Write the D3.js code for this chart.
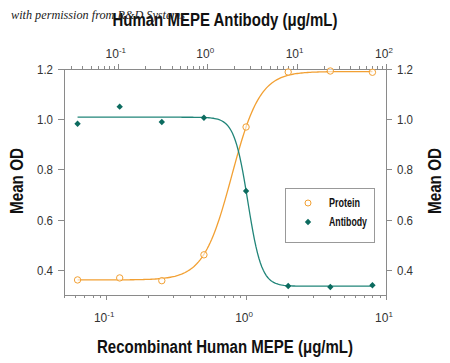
<!DOCTYPE html>
<html>
<head>
<meta charset="utf-8">
<script src="https://cdn.jsdelivr.net/npm/d3@7"></script>
<style>
  body { margin: 0; background: #fff; }
  svg { display: block; }
  .cond { font-family: "Liberation Sans", Arial, sans-serif; }
</style>
</head>
<body>
<div id="chart"></div>
<script>
'use strict';

// concentrations (ug/mL) on the bottom axis
var concentrations = [0.0625, 0.125, 0.25, 0.5, 1, 2, 4, 8];
var proteinOD = [0.36, 0.368, 0.357, 0.46, 0.969, 1.188, 1.192, 1.187];
var antibodyOD = [0.982, 1.05, 0.989, 1.006, 0.714, 0.336, 0.332, 0.339];

// 4PL fit: [bottom, top, mid, hill]
var proteinFit = [0.36, 1.19, 0.79, 4.3];
var antibodyFit = [0.335, 1.008, 1.03, 8.9];

var yTicks = [0.4, 0.6, 0.8, 1.0, 1.2];
var bottomMajor = [0.1, 1, 10];
var topMajor = [0.1, 1, 10, 100];
var legendNames = ['Protein', 'Antibody'];

var W = 450, H = 363;
var L = 64, R = 386, T = 69, B = 295;
var ORANGE = '#f2a033';
var TEAL_LINE = '#218579';
var TEAL = '#0c6b5f';
var AXIS = '#8a8a8a';
var LABEL = '#333';

var svg = d3.select('#chart')
    .append('svg')
    .attr('width', W)
    .attr('height', H);

var x = d3.scaleLog().domain([0.05, 10]).range([L, R]);
var xTop = d3.scaleLog().domain([0.025, 100]).range([L, R]);
var y = d3.scaleLinear().domain([0.3, 1.2]).range([B, T]);

// frame lines
svg.append('line').attr('x1', L + 0.5).attr('x2', L + 0.5).attr('y1', T).attr('y2', B).attr('stroke', AXIS);
svg.append('line').attr('x1', R + 0.5).attr('x2', R + 0.5).attr('y1', T).attr('y2', B).attr('stroke', AXIS);
svg.append('line').attr('x1', L).attr('x2', R).attr('y1', T + 0.5).attr('y2', T + 0.5).attr('stroke', AXIS);
svg.append('line').attr('x1', L).attr('x2', R).attr('y1', B + 0.5).attr('y2', B + 0.5).attr('stroke', AXIS);

function isMajor(v, list) {
    return list.some(function(m) { return Math.abs(m - v) / m < 1e-6; });
}

// bottom log ticks
svg.append('g').selectAll('line')
    .data(x.ticks())
    .enter().append('line')
    .attr('x1', function(d) { return Math.round(x(d)) + 0.5; })
    .attr('x2', function(d) { return Math.round(x(d)) + 0.5; })
    .attr('y1', B)
    .attr('y2', function(d) { return B + (isMajor(d, bottomMajor) ? 5 : 3); })
    .attr('stroke', AXIS);

// top log ticks
svg.append('g').selectAll('line')
    .data(xTop.ticks())
    .enter().append('line')
    .attr('x1', function(d) { return Math.round(xTop(d)) + 0.5; })
    .attr('x2', function(d) { return Math.round(xTop(d)) + 0.5; })
    .attr('y1', T)
    .attr('y2', function(d) { return T - (isMajor(d, topMajor) ? 5 : 3); })
    .attr('stroke', AXIS);

function powerLabel(g, scale, data, yPos) {
    var t = g.selectAll('text')
        .data(data)
        .enter().append('text')
        .attr('class', 'cond')
        .attr('x', function(d) { return scale(d) - 2; })
        .attr('y', yPos)
        .attr('text-anchor', 'middle')
        .attr('fill', LABEL)
        .style('font-size', '12px');
    t.append('tspan').text('10');
    t.append('tspan')
        .attr('dy', -5)
        .style('font-size', '8px')
        .text(function(d) { return String(Math.round(Math.log10(d))); });
}
powerLabel(svg.append('g'), x, bottomMajor, 322);
powerLabel(svg.append('g'), xTop, topMajor, 58);

// y ticks left and right
[[L, -6, L - 11, 'end'], [R, 6, R + 11, 'start']].forEach(function(s) {
    var g = svg.append('g');
    g.selectAll('line')
        .data(yTicks)
        .enter().append('line')
        .attr('x1', s[0])
        .attr('x2', s[0] + s[1])
        .attr('y1', function(d) { return Math.round(y(d)) + 0.5; })
        .attr('y2', function(d) { return Math.round(y(d)) + 0.5; })
        .attr('stroke', AXIS);
    g.selectAll('text')
        .data(yTicks)
        .enter().append('text')
        .attr('class', 'cond')
        .attr('x', s[2])
        .attr('y', function(d) { return y(d) + 5; })
        .attr('text-anchor', s[3])
        .attr('fill', LABEL)
        .style('font-size', '13px')
        .attr('textLength', 16)
        .attr('lengthAdjust', 'spacingAndGlyphs')
        .text(function(d) { return d.toFixed(1); });
});

// fitted curves
function fourPL(p, rising) {
    return function(c) {
        var r = rising ? Math.pow(p[2] / c, p[3]) : Math.pow(c / p[2], p[3]);
        return p[0] + (p[1] - p[0]) / (1 + r);
    };
}
var samples = d3.range(0, 201).map(function(i) {
    return Math.pow(10, Math.log10(0.0625) + i / 200 * (Math.log10(8) - Math.log10(0.0625)));
});
var line = d3.line()
    .x(function(d) { return x(d[0]); })
    .y(function(d) { return y(d[1]); });

var fp = fourPL(proteinFit, true);
var fa = fourPL(antibodyFit, false);

svg.append('path')
    .datum(samples.map(function(c) { return [c, fp(c)]; }))
    .attr('d', line)
    .attr('fill', 'none')
    .attr('stroke', ORANGE)
    .attr('stroke-width', 1.3);

svg.append('path')
    .datum(samples.map(function(c) { return [c, fa(c)]; }))
    .attr('d', line)
    .attr('fill', 'none')
    .attr('stroke', TEAL_LINE)
    .attr('stroke-width', 1.3);

// points
var diamond = d3.symbol().type(d3.symbolDiamond2).size(26);

svg.append('g').selectAll('circle')
    .data(concentrations)
    .enter().append('circle')
    .attr('cx', function(d) { return x(d); })
    .attr('cy', function(d, i) { return y(proteinOD[i]); })
    .attr('r', 3.2)
    .attr('fill', '#fff')
    .attr('fill-opacity', 0.6)
    .attr('stroke', ORANGE)
    .attr('stroke-width', 1);

svg.append('g').selectAll('path')
    .data(concentrations)
    .enter().append('path')
    .attr('d', diamond)
    .attr('transform', function(d, i) { return 'translate(' + x(d) + ',' + y(antibodyOD[i]) + ')'; })
    .attr('fill', TEAL);

// legend
var lg = svg.append('g');
lg.append('rect')
    .attr('x', 285.5).attr('y', 188.5)
    .attr('width', 89).attr('height', 54)
    .attr('fill', '#fff')
    .attr('stroke', '#999');
lg.append('circle')
    .attr('cx', 308).attr('cy', 203).attr('r', 3)
    .attr('fill', '#fff').attr('stroke', ORANGE);
lg.append('path')
    .attr('d', diamond)
    .attr('transform', 'translate(308,222)')
    .attr('fill', TEAL);
lg.selectAll('text')
    .data(legendNames)
    .enter().append('text')
    .attr('class', 'cond')
    .attr('x', 329)
    .attr('y', function(d, i) { return 207 + i * 19; })
    .attr('fill', '#111')
    .style('font-size', '12px')
    .style('font-weight', 'bold')
    .attr('textLength', function(d, i) { return i ? 38 : 31; })
    .attr('lengthAdjust', 'spacingAndGlyphs')
    .text(function(d) { return d; });

// titles
function title(txt, tx, ty, rot, len) {
    svg.append('text')
        .attr('class', 'cond')
        .attr('transform', 'translate(' + tx + ',' + ty + ')' + (rot ? ' rotate(-90)' : ''))
        .attr('text-anchor', 'middle')
        .attr('fill', '#111')
        .style('font-size', '18px')
        .style('font-weight', 'bold')
        .attr('textLength', len)
        .attr('lengthAdjust', 'spacingAndGlyphs')
        .text(txt);
}
title('Human MEPE Antibody (μg/mL)', 225, 26, false, 225);
title('Recombinant Human MEPE (μg/mL)', 225, 353, false, 256);
title('Mean OD', 23, 181, true, 66);
title('Mean OD', 441, 181, true, 66);

// watermark
svg.append('text')
    .attr('x', 11).attr('y', 19)
    .attr('fill', '#222')
    .style('font-family', '"Liberation Serif", "DejaVu Serif", serif')
    .style('font-style', 'italic')
    .style('font-size', '11.5px')
    .attr('textLength', 174)
    .attr('lengthAdjust', 'spacingAndGlyphs')
    .text('with permission from R&D Systems');
</script>
</body>
</html>
